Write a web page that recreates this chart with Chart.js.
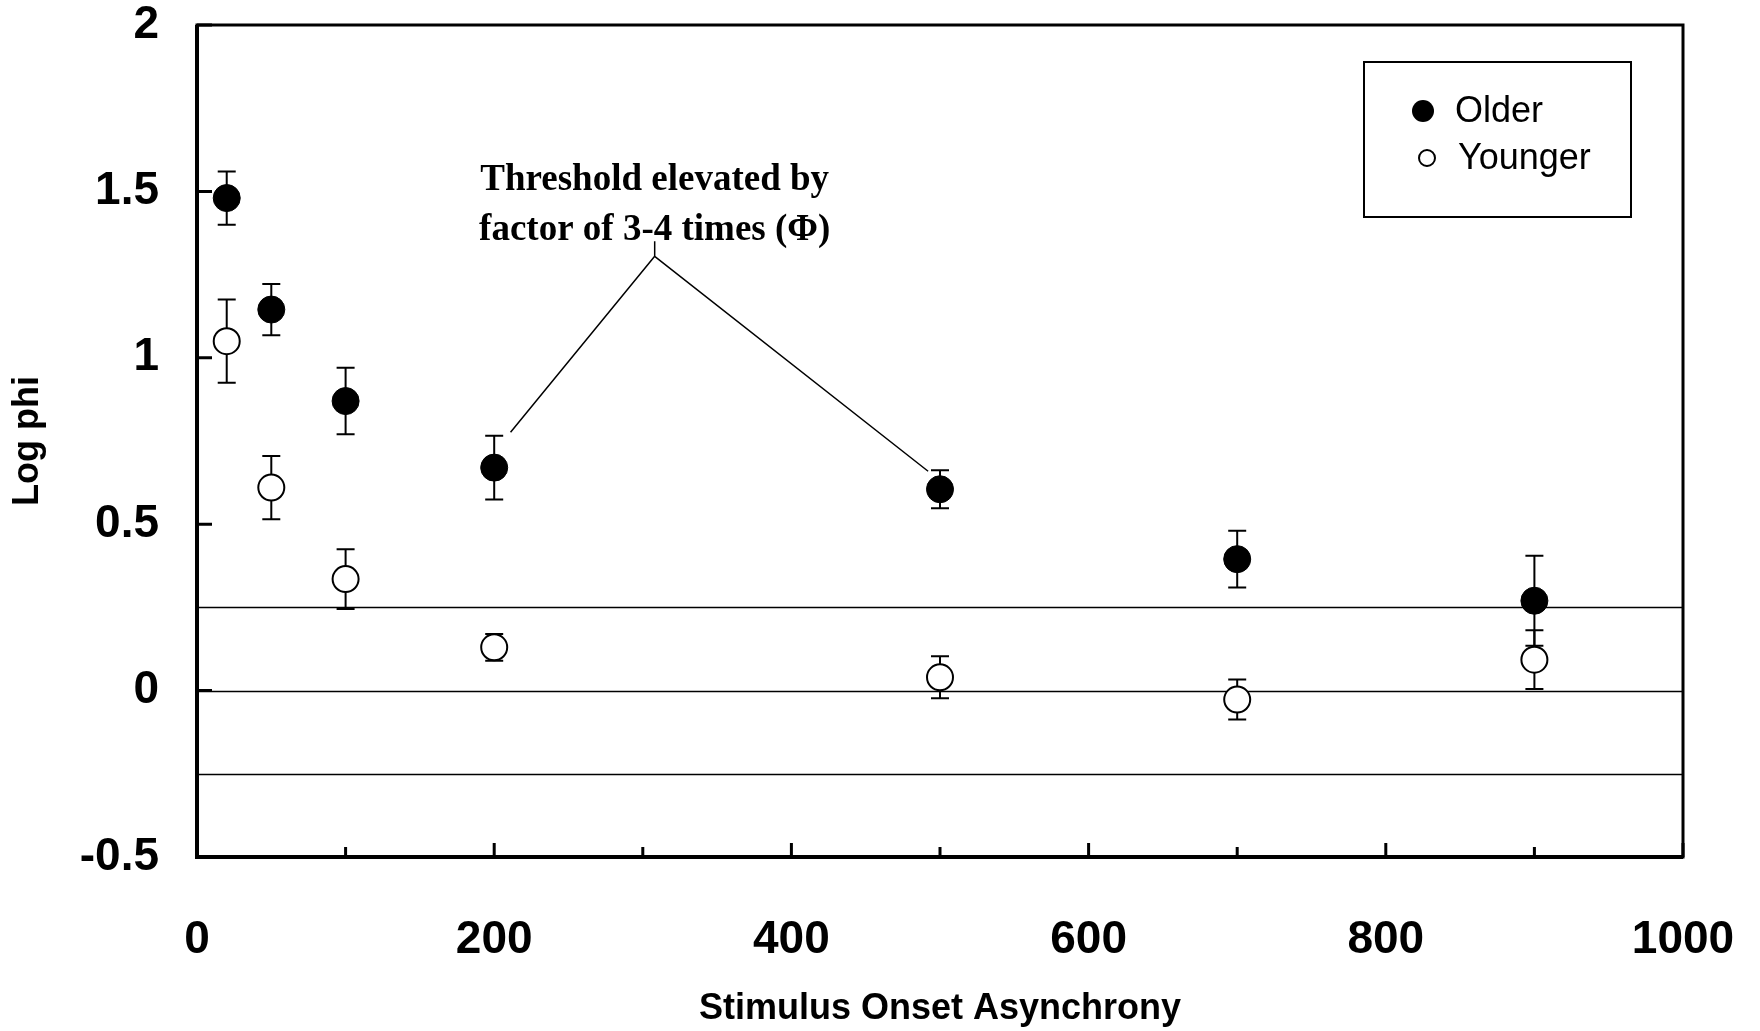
<!DOCTYPE html>
<html>
<head>
<meta charset="utf-8">
<script src="https://cdn.jsdelivr.net/npm/chart.js@4.4.0/dist/chart.umd.js"></script>
<style>
  html, body { margin: 0; padding: 0; background: #fff; }
</style>
</head>
<body>
<canvas id="chart" width="1760" height="1031"></canvas>
<script>
// values
const soa = [20, 50, 100, 200, 500, 700, 900];
const olderMean = [1.48, 1.145, 0.87, 0.67, 0.605, 0.395, 0.27];
const olderErr = [0.08, 0.077, 0.10, 0.096, 0.057, 0.085, 0.135];
const youngerMean = [1.05, 0.61, 0.335, 0.13, 0.04, -0.027, 0.093];
const youngerErr = [0.125, 0.095, 0.09, 0.04, 0.063, 0.06, 0.088];

const xTicks = [0, 200, 400, 600, 800, 1000];
const xMinorTicks = [100, 300, 500, 700, 900];
const yTicks = [-0.5, 0, 0.5, 1, 1.5, 2];
const refLines = [0.25, 0, -0.25];

const noteLines = ['Threshold elevated by', 'factor of 3-4 times (\u03A6)'];
const noteAt = [308, 1.533];          // centre of first text line (data units)
const noteStep = 0.15;                // line spacing (data units)
const leaderTop = [308, 1.35];
const leaderApex = [308, 1.305];
const leaderEnds = [[211, 0.776], [492, 0.659]];

const sans = 'Arial, "Liberation Sans", sans-serif';
const serif = '"Times New Roman", "Liberation Serif", serif';

const toPts = (xs, ys) => xs.map((x, i) => ({ x, y: ys[i] }));

const figurePlugin = {
    id: 'figure',
    beforeDatasetsDraw(chart) {
        const { ctx, chartArea: a, scales: { x, y } } = chart;
        ctx.save();
        ctx.strokeStyle = '#000';
        // reference lines
        ctx.lineWidth = 1.5;
        refLines.forEach((v) => {
            const py = Math.round(y.getPixelForValue(v)) + 0.5;
            ctx.beginPath(); ctx.moveTo(a.left, py); ctx.lineTo(a.right, py); ctx.stroke();
        });
        // error bars
        ctx.lineWidth = 2;
        const bars = (means, errs) => soa.forEach((s, i) => {
            const px = x.getPixelForValue(s);
            const top = y.getPixelForValue(means[i] + errs[i]);
            const bot = y.getPixelForValue(means[i] - errs[i]);
            ctx.beginPath();
            ctx.moveTo(px, top); ctx.lineTo(px, bot);
            ctx.moveTo(px - 9, top); ctx.lineTo(px + 9, top);
            ctx.moveTo(px - 9, bot); ctx.lineTo(px + 9, bot);
            ctx.stroke();
        });
        bars(olderMean, olderErr);
        bars(youngerMean, youngerErr);
        ctx.restore();
    },
    afterDraw(chart) {
        const { ctx, chartArea: a, scales: { x, y } } = chart;
        ctx.save();
        ctx.strokeStyle = '#000';
        ctx.fillStyle = '#000';

        // frame
        ctx.lineWidth = 3;
        ctx.strokeRect(a.left, a.top, a.right - a.left, a.bottom - a.top);
        ctx.lineWidth = 4;
        ctx.beginPath();
        ctx.moveTo(a.left, a.top); ctx.lineTo(a.left, a.bottom); ctx.lineTo(a.right, a.bottom);
        ctx.stroke();

        // inward ticks
        ctx.lineWidth = 3;
        ctx.beginPath();
        yTicks.forEach((v) => {
            const py = y.getPixelForValue(v);
            ctx.moveTo(a.left, py); ctx.lineTo(a.left + 15, py);
        });
        xTicks.forEach((v) => {
            const px = x.getPixelForValue(v);
            ctx.moveTo(px, a.bottom); ctx.lineTo(px, a.bottom - 14);
        });
        xMinorTicks.forEach((v) => {
            const px = x.getPixelForValue(v);
            ctx.moveTo(px, a.bottom); ctx.lineTo(px, a.bottom - 10);
        });
        ctx.stroke();

        // annotation
        ctx.font = 'bold 37px ' + serif;
        ctx.textAlign = 'center';
        ctx.textBaseline = 'middle';
        noteLines.forEach((t, i) => {
            ctx.fillText(t, x.getPixelForValue(noteAt[0]), y.getPixelForValue(noteAt[1] - i * noteStep));
        });
        ctx.lineWidth = 1.5;
        const P = (p) => [x.getPixelForValue(p[0]), y.getPixelForValue(p[1])];
        const [tx, ty] = P(leaderTop);
        const [ax, ay] = P(leaderApex);
        ctx.beginPath();
        ctx.moveTo(tx, ty); ctx.lineTo(ax, ay);
        leaderEnds.forEach((e) => {
            const [ex, ey] = P(e);
            ctx.moveTo(ax, ay); ctx.lineTo(ex, ey);
        });
        ctx.stroke();

        // legend box
        ctx.lineWidth = 2;
        ctx.strokeRect(1364, 62, 267, 155);
        ctx.beginPath(); ctx.arc(1423, 111, 11, 0, Math.PI * 2); ctx.fill();
        ctx.lineWidth = 2;
        ctx.beginPath(); ctx.arc(1427, 158, 8, 0, Math.PI * 2);
        ctx.fillStyle = '#fff'; ctx.fill(); ctx.stroke();
        ctx.fillStyle = '#000';
        ctx.font = '36px ' + sans;
        ctx.textAlign = 'left';
        ctx.fillText('Older', 1455, 112);
        ctx.fillText('Younger', 1458, 159);
        ctx.restore();
    },
};

new Chart(document.getElementById('chart'), {
    type: 'scatter',
    data: {
        datasets: [
            {
                label: 'Older',
                data: toPts(soa, olderMean),
                pointRadius: 13.5, pointHoverRadius: 13.5,
                backgroundColor: '#000', borderColor: '#000', borderWidth: 1,
            },
            {
                label: 'Younger',
                data: toPts(soa, youngerMean),
                pointRadius: 13, pointHoverRadius: 13,
                backgroundColor: '#fff', borderColor: '#000', borderWidth: 2,
            },
        ],
    },
    options: {
        responsive: false, animation: false, devicePixelRatio: 1,
        layout: { padding: { top: 25, right: 77, left: 0, bottom: 0 } },
        plugins: { legend: { display: false }, tooltip: { enabled: false } },
        scales: {
            x: {
                type: 'linear', min: 0, max: 1000,
                afterBuildTicks: (s) => { s.ticks = xTicks.map((v) => ({ value: v })); },
                afterFit: (s) => { s.height = 174; s.paddingLeft = 0; s.paddingRight = 0; },
                grid: { display: false, drawTicks: false },
                border: { display: false },
                ticks: {
                    color: '#000', padding: 56, callback: (v) => String(v),
                    font: { family: sans, size: 46, weight: 'bold' },
                },
                title: {
                    display: true, text: 'Stimulus Onset Asynchrony', color: '#000',
                    padding: { top: 0, bottom: 0 },
                    font: { family: sans, size: 36, weight: 'bold' },
                },
            },
            y: {
                type: 'linear', min: -0.5, max: 2,
                afterBuildTicks: (s) => { s.ticks = yTicks.map((v) => ({ value: v })); },
                afterFit: (s) => { s.width = 197; s.paddingTop = 0; s.paddingBottom = 0; },
                grid: { display: false, drawTicks: false },
                border: { display: false },
                ticks: {
                    color: '#000', padding: 38, callback: (v) => String(v),
                    font: { family: sans, size: 46, weight: 'bold' },
                },
                title: {
                    display: true, text: 'Log phi', color: '#000',
                    padding: { top: 6, bottom: 0 },
                    font: { family: sans, size: 36, weight: 'bold' },
                },
            },
        },
    },
    plugins: [figurePlugin],
});
</script>
</body>
</html>
